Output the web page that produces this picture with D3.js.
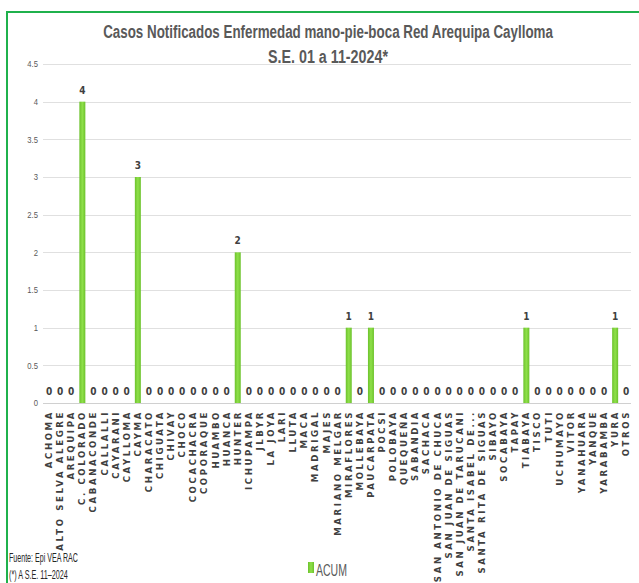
<!DOCTYPE html>
<html><head><meta charset="utf-8">
<script src="https://cdn.jsdelivr.net/npm/d3@7"></script>
<style>
html,body{margin:0;padding:0;background:#fff;overflow:hidden}
svg{display:block}
</style></head>
<body>
<script>
const categories = ["ACHOMA","ALTO SELVA ALEGRE","AREQUIPA","C. COLORADO","CABANACONDE","CALLALLI","CAYARANI","CAYLLOMA","CAYMA","CHARACATO","CHIGUATA","CHIVAY","CHOCO","COCACHACRA","COPORAQUE","HUAMBO","HUANCA","HUNTER","ICHUPAMPA","JLBYR","LA JOYA","LARI","LLUTA","MACA","MADRIGAL","MAJES","MARIANO MELGAR","MIRAFLORES","MOLLEBAYA","PAUCARPATA","POCSI","POLOBAYA","QUEQUEÑA","SABANDIA","SACHACA","SAN ANTONIO DE CHUCA","SAN JUAN DE SIGUAS","SAN JUAN DE TARUCANI","SANTA ISABEL DE...","SANTA RITA DE SIGUAS","SIBAYO","SOCABAYA","TAPAY","TIABAYA","TISCO","TUTI","UCHUMAYO","VITOR","YANAHUARA","YANQUE","YARABAMBA","YURA","OTROS"];
const acum = [0,0,0,4,0,0,0,0,3,0,0,0,0,0,0,0,0,2,0,0,0,0,0,0,0,0,0,1,0,1,0,0,0,0,0,0,0,0,0,0,0,0,0,1,0,0,0,0,0,0,0,1,0];
const yTicks = [0,0.5,1,1.5,2,2.5,3,3.5,4,4.5];
const seriesName = "ACUM";
const titleLines = ["Casos  Notificados Enfermedad mano-pie-boca Red Arequipa Caylloma","S.E. 01 a 11-2024*"];
const footLines = ["Fuente:  Epi VEA RAC","(*) A S.E. 11\u20132024"];

const W = 639, H = 583;
const narrow = "'Liberation Sans','Arial',sans-serif";
const svg = d3.select("body").append("svg").attr("width", W).attr("height", H);

const defs = svg.append("defs");
const grad = defs.append("linearGradient").attr("id","barg").attr("x1","0").attr("x2","1").attr("y1","0").attr("y2","0");
grad.append("stop").attr("offset","0%").attr("stop-color","#6cc22c");
grad.append("stop").attr("offset","50%").attr("stop-color","#8fe04a");
grad.append("stop").attr("offset","100%").attr("stop-color","#6cc22c");

// outer border
svg.append("rect").attr("x",7).attr("y",12).attr("width",W+20).attr("height",H+20)
  .attr("fill","none").attr("stroke","#1fb14c").attr("stroke-width",2);

const x = d3.scaleBand().domain(categories).range([43.5, 631.8]).paddingInner(0.46).paddingOuter(0.23);
const y = d3.scaleLinear().domain([0,4.5]).range([403, 64]);

// gridlines
svg.append("g").selectAll("line").data(yTicks).join("line")
  .attr("x1",43).attr("x2",631).attr("y1",d=>Math.round(y(d))+0.5).attr("y2",d=>Math.round(y(d))+0.5)
  .attr("stroke", d=> d===0 ? "#d0d0d0" : "#e0e0e0").attr("stroke-width",1);

// y axis labels
const yAxis = d3.axisLeft(y).tickValues(yTicks).tickSize(0).tickPadding(0).tickFormat(d3.format("~g"));
const yg = svg.append("g").attr("transform","translate(38,0)").call(yAxis);
yg.select(".domain").remove();
yg.selectAll("text").attr("font-family",narrow).attr("font-size",9).attr("fill","#595959")
  .attr("transform","scale(0.85,1)");

// bars
svg.append("g").selectAll("rect").data(categories).join("rect")
  .attr("x", d=>x(d)).attr("width", x.bandwidth())
  .attr("y", (d,i)=>y(acum[i])).attr("height",(d,i)=>y(0)-y(acum[i]))
  .attr("fill","url(#barg)");

// value labels
svg.append("g").selectAll("text").data(categories).join("text")
  .attr("x", d=>x(d)+x.bandwidth()/2).attr("y",(d,i)=>y(acum[i])-8)
  .attr("text-anchor","middle")
  .attr("font-family","'DejaVu Sans Condensed','DejaVu Sans',sans-serif").attr("font-weight","bold")
  .attr("font-size",10).attr("fill","#404040")
  .text((d,i)=>acum[i]);

// x axis labels
const xAxis = d3.axisBottom(x).tickSize(0).tickPadding(0);
const xg = svg.append("g").attr("transform",`translate(0,${y(0)})`).call(xAxis);
xg.select(".domain").remove();
xg.selectAll(".tick text")
  .attr("transform","rotate(-90)")
  .attr("text-anchor","end").attr("dy","0.35em").attr("x",-7).attr("y",0)
  .attr("font-family","'DejaVu Sans',sans-serif").attr("font-weight","bold")
  .attr("font-size",8.6).attr("letter-spacing","2.6px").attr("fill","#404040");

// helper: horizontally condensed text fitted to a width
function fitText(parent, str, cx, cy, size, width, anchor, opts) {
  const g = parent.append("g");
  const t = g.append("text").attr("x",0).attr("y",0).attr("font-family",narrow)
    .attr("font-size",size).attr("text-anchor",anchor).text(str);
  for (const k in opts) t.attr(k, opts[k]);
  const len = t.node().getComputedTextLength();
  const sx = len > 0 ? width / len : 1;
  g.attr("transform",`translate(${cx},${cy}) scale(${sx},1)`);
  return t;
}

// title
fitText(svg, titleLines[0], 328, 38, 19, 450, "middle", {"font-weight":"bold","fill":"#595959"});
fitText(svg, titleLines[1], 328, 63, 19, 120, "middle", {"font-weight":"bold","fill":"#595959"});

// legend
svg.append("rect").attr("x",308).attr("y",562).attr("width",6).attr("height",11).attr("fill","url(#barg)");
fitText(svg, seriesName, 316, 576, 17, 31, "start", {"fill":"#595959"});

// footer
fitText(svg, footLines[0], 9, 562, 12, 69, "start", {"fill":"#262626"});
fitText(svg, footLines[1], 9, 579, 12, 59, "start", {"fill":"#262626"});
</script>
</body></html>
